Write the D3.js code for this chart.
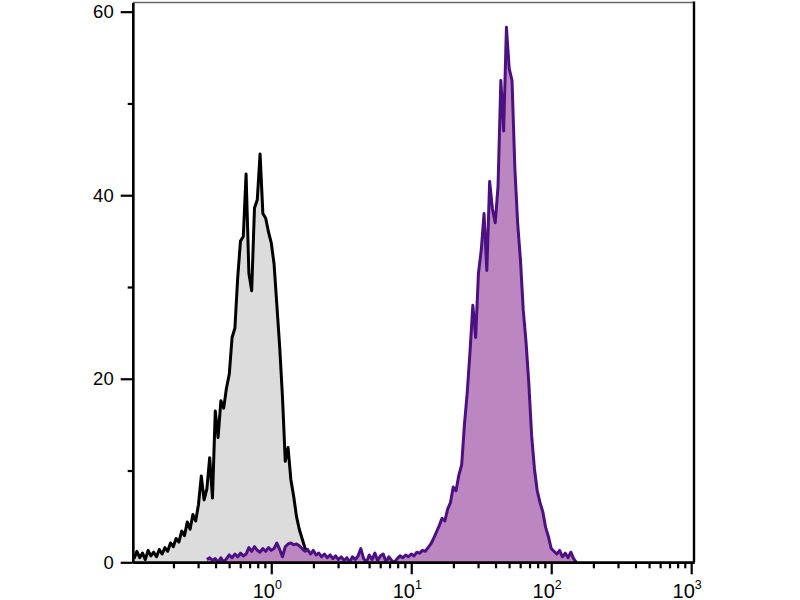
<!DOCTYPE html>
<html><head><meta charset="utf-8">
<script src="https://cdn.jsdelivr.net/npm/d3@7"></script>
<style>body{margin:0;background:#fff}</style>
</head><body><svg id="c" width="800" height="600"></svg>
<script>
// Histogram bins: log10 spacing of binWidth decades
const binWidth = 0.02;
const controlStartLog = -0.98;
const controlCounts = [0.4,1.2,0.5,1.0,0.3,1.3,0.7,1.1,0.6,1.4,0.9,1.6,1.2,2.1,1.7,2.6,2.2,3.4,2.9,4.4,3.6,5.2,4.5,6.3,9.4,6.8,8.0,11.4,7.0,16.5,13.6,17.6,16.8,19.0,20.5,24.5,25.5,31.0,35.0,35.5,42.3,31.5,29.6,38.6,39.5,44.5,38.0,37.5,36.0,34.8,32.5,28.0,23.5,18.0,11.0,12.5,9.0,7.2,5.0,3.6,2.6,1.6,1.0,0.6,0.4,0.2,0];
const stainedStartLog = -0.46;
const stainedCounts = [0.3,0.5,0.2,0.4,0.0,0.5,0.0,0.4,0.8,0.5,0.9,0.6,1.0,0.7,0.9,1.6,1.2,1.7,1.3,1.1,1.5,1.2,1.6,1.3,1.5,2.1,1.4,0.6,1.7,2.0,2.1,1.9,2.0,1.8,1.5,1.2,1.4,0.9,1.3,0.8,1.0,0.6,0.9,0.5,0.8,0.4,0.7,0.3,0.6,0.2,0.5,0.0,0.6,0.3,0.7,1.5,0.4,0.0,0.8,0.3,1.0,0.2,0.7,0.9,0.0,0.6,0.2,0.0,0.4,0.7,0.5,0.8,0.6,0.9,0.7,1.1,1.0,1.3,1.2,1.6,2.0,2.6,3.3,4.0,4.8,4.5,5.8,6.5,8.2,7.8,9.5,10.6,15.0,18.5,23.0,28.0,24.5,31.5,34.0,38.0,31.8,41.5,38.5,37.0,41.0,52.5,47.0,58.3,53.8,52.5,43.0,37.0,33.0,27.5,24.0,19.5,13.8,10.2,7.8,6.5,5.5,3.8,2.8,1.5,1.2,0.9,1.3,0.6,1.0,0.5,1.1,0.4,0];
const xMajorTicks = [1, 10, 100, 1000];
const xTickExponents = ["0", "1", "2", "3"];
const yMajorTicks = [0, 20, 40, 60];
const yMinorTicks = [10, 30, 50];

const svg = d3.select("#c");
const L = 132.7, R = 694, T = 2.5, B = 562.3;
const x = d3.scaleLog().domain([Math.pow(10, -0.99), Math.pow(10, 3.02)]).range([L, R]);
const y = d3.scaleLinear().domain([0, 61]).range([B, T]);

function toPoints(start, counts) {
  return counts.map((v, i) => ({ x: Math.pow(10, start + i * binWidth), v }));
}
const control = toPoints(controlStartLog, controlCounts);
const stained = toPoints(stainedStartLog, stainedCounts);

svg.append("defs").append("clipPath").attr("id", "clip")
  .append("rect").attr("x", L).attr("y", T).attr("width", R - L).attr("height", B - T);

const area = d3.area().x(d => x(d.x)).y0(y(0)).y1(d => y(d.v));
const line = d3.line().x(d => x(d.x)).y(d => y(d.v));

const g = svg.append("g").attr("clip-path", "url(#clip)");
g.append("path").datum(control).attr("d", area).attr("fill", "#dcdcdc");
g.append("path").datum(control).attr("d", line).attr("fill", "none")
  .attr("stroke", "#000").attr("stroke-width", 3).attr("stroke-linejoin", "round");
g.append("path").datum(stained).attr("d", area).attr("fill", "#bc86c0");
g.append("path").datum(stained).attr("d", line).attr("fill", "none")
  .attr("stroke", "#4b1183").attr("stroke-width", 3).attr("stroke-linejoin", "round");

// frame top and right
svg.append("line").attr("x1", L).attr("x2", R).attr("y1", T).attr("y2", T)
  .attr("stroke", "#666").attr("stroke-width", 1.5);
svg.append("line").attr("x1", R).attr("x2", R).attr("y1", T - 1).attr("y2", B)
  .attr("stroke", "#000").attr("stroke-width", 2.4);

// x minor ticks
const xMinor = [];
for (let e = -1; e <= 2; e++) for (let m = 2; m <= 9; m++) {
  const v = m * Math.pow(10, e);
  if (v >= x.domain()[0] && v <= x.domain()[1]) xMinor.push(v);
}
const xAxisMinor = svg.append("g").attr("transform", `translate(0,${B})`)
  .call(d3.axisBottom(x).tickValues(xMinor).tickFormat("").tickSize(6).tickSizeOuter(0));
const xAxisMajor = svg.append("g").attr("transform", `translate(0,${B})`)
  .call(d3.axisBottom(x).tickValues(xMajorTicks).tickFormat("").tickSize(12).tickSizeOuter(0));
[xAxisMinor, xAxisMajor].forEach(a => {
  a.select(".domain").attr("stroke", "#000").attr("stroke-width", 2.4);
  a.selectAll(".tick line").attr("stroke", "#000").attr("stroke-width", 2.2);
});
// x labels with superscripts
xMajorTicks.forEach((v, i) => {
  const t = svg.append("text").attr("x", x(v) - 4).attr("y", 597.5)
    .attr("text-anchor", "middle").attr("font-family", "Liberation Sans, Arial, sans-serif")
    .attr("font-size", 20).attr("fill", "#000");
  t.append("tspan").text("10");
  t.append("tspan").attr("dy", -9).attr("font-size", 12.5).text(xTickExponents[i]);
});

// y axis
const yAxisMinor = svg.append("g").attr("transform", `translate(${L},0)`)
  .call(d3.axisLeft(y).tickValues(yMinorTicks).tickFormat("").tickSize(5).tickSizeOuter(0));
const yAxisMajor = svg.append("g").attr("transform", `translate(${L},0)`)
  .call(d3.axisLeft(y).tickValues(yMajorTicks).tickFormat(d3.format("d")).tickSize(12).tickPadding(7).tickSizeOuter(0));
[yAxisMinor, yAxisMajor].forEach(a => {
  a.select(".domain").attr("stroke", "#000").attr("stroke-width", 2.4);
  a.selectAll(".tick line").attr("stroke", "#000").attr("stroke-width", 2.2);
});
yAxisMajor.selectAll(".tick text").attr("font-family", "Liberation Sans, Arial, sans-serif")
  .attr("font-size", 18.5).attr("fill", "#000");
</script></body></html>
